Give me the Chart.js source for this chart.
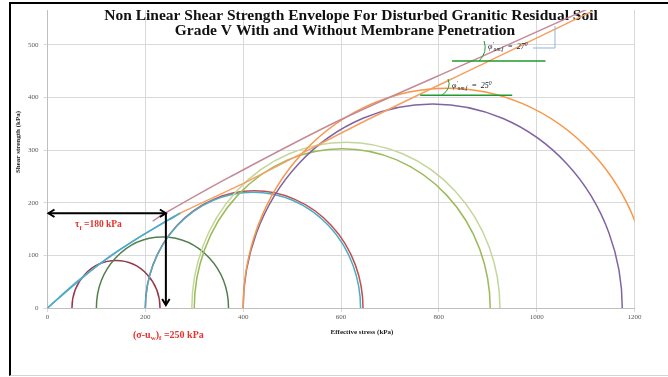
<!DOCTYPE html>
<html>
<head>
<meta charset="utf-8">
<script src="https://cdn.jsdelivr.net/npm/chart.js@4.4.0/dist/chart.umd.min.js"></script>
<style>
  html, body { margin: 0; padding: 0; background: #fff; }
  #wrap { position: relative; width: 668px; height: 377px; overflow: hidden; }
  #frame {
    position: absolute; left: 9px; top: 2px; width: 680px; height: 371px;
    border-left: 2px solid #000; border-top: 2px solid #000; border-bottom: 1px solid #d4d4d4;
    pointer-events: none;
  }
  canvas { position: absolute; left: 0; top: 0; }
</style>
</head>
<body>
<div id="wrap">
  <canvas id="chart" width="668" height="377"></canvas>
  <div id="frame"></div>
</div>
<script>
// Mohr circles: minor and major effective principal stress (kPa)
const sigma3 = [50, 100, 200, 200, 300, 295, 400, 400];
const sigma1 = [230, 370, 645, 640, 905, 925, 1175, 1235];

// Failure envelopes (effective stress, shear strength)
const envCyanX = [0, 66, 121, 189, 271];
const envCyanY = [0, 53, 94, 135, 180];
const envBlueX = [0, 60, 118, 185, 262];
const envBlueY = [0, 50, 91, 133, 176];
const envMauveX = [215, 240, 373, 598, 884, 1109];
const envMauveY = [165, 180, 249, 357, 476, 570];
const envOrangeX = [250, 271, 414, 653, 900, 1114];
const envOrangeY = [168, 180, 243, 357, 468, 564];

// Failure point marked with arrows
const tauF = 180;
const sigmaF = 242;

const xTicks = [0, 200, 400, 600, 800, 1000, 1200];
const yTicks = [0, 100, 200, 300, 400, 500];

const circleColors = ["#953a4c", "#527f4e", "#c0504d", "#4bacc6", "#9bbb59", "#c4d79b", "#8064a2", "#f79646"];

function pts(xs, ys) {
  return xs.map((x, i) => ({ x: x, y: ys[i] }));
}

function envelope(xs, ys, color) {
  return {
    data: pts(xs, ys),
    borderColor: color,
    borderWidth: 1.5,
    pointRadius: 0,
    showLine: true,
    tension: 0.3,
    fill: false,
  };
}

const mohrCircles = {
  id: "mohrCircles",
  beforeDatasetsDraw(chart) {
    const { ctx, chartArea, scales: { x, y } } = chart;
    ctx.save();
    ctx.beginPath();
    ctx.rect(chartArea.left, chartArea.top, chartArea.right - chartArea.left, chartArea.bottom - chartArea.top);
    ctx.clip();
    ctx.lineWidth = 1.5;
    sigma3.forEach((s3, i) => {
      const c = (s3 + sigma1[i]) / 2;
      const r = (sigma1[i] - s3) / 2;
      const cx = x.getPixelForValue(c);
      const cy = y.getPixelForValue(0);
      const rx = x.getPixelForValue(c + r) - cx;
      const ry = cy - y.getPixelForValue(r);
      ctx.strokeStyle = circleColors[i];
      ctx.beginPath();
      ctx.ellipse(cx, cy, rx, ry, 0, Math.PI, 2 * Math.PI);
      ctx.stroke();
    });
    ctx.restore();
  },
};

function arrowHead(ctx, x, y, dir) {
  const s = 6;
  ctx.beginPath();
  if (dir === "left") {
    ctx.moveTo(x + s, y - s / 1.6); ctx.lineTo(x, y); ctx.lineTo(x + s, y + s / 1.6);
  } else if (dir === "right") {
    ctx.moveTo(x - s, y - s / 1.6); ctx.lineTo(x, y); ctx.lineTo(x - s, y + s / 1.6);
  } else {
    ctx.moveTo(x - s / 1.6, y - s); ctx.lineTo(x, y); ctx.lineTo(x + s / 1.6, y - s);
  }
  ctx.stroke();
}

// draw a run of text parts, some of them sub- or superscripts
function drawRuns(ctx, runs, x, y, size, weight, style) {
  let cx = x;
  runs.forEach(r => {
    const fs = r.sub || r.sup ? size * 0.7 : size;
    ctx.font = (style || "") + " " + weight + " " + fs + "px 'Liberation Serif'";
    const dy = r.sub ? size * 0.3 : r.sup ? -size * 0.35 : 0;
    ctx.fillText(r.t, cx, y + dy);
    cx += ctx.measureText(r.t).width;
  });
}

const annotations = {
  id: "annotations",
  beforeDatasetsDraw(chart) {
    const { ctx } = chart;
    ctx.save();
    ctx.fillStyle = "#111";
    ctx.textAlign = "center";
    ctx.textBaseline = "middle";
    ctx.font = "bold 15.5px 'Liberation Serif'";
    ctx.fillText("Non Linear Shear Strength Envelope For Disturbed Granitic Residual Soil", 351, 16);
    ctx.fillText("Grade V With and Without Membrane Penetration", 345, 31);
    ctx.restore();
  },
  afterDraw(chart) {
    const { ctx, scales: { x, y } } = chart;
    ctx.save();

    // axis titles
    ctx.fillStyle = "#222";
    ctx.textAlign = "center";
    ctx.textBaseline = "middle";
    ctx.font = "bold 7px 'Liberation Serif'";
    ctx.fillText("Effective stress (kPa)", 362, 332);
    ctx.save();
    ctx.translate(18, 142);
    ctx.rotate(-Math.PI / 2);
    ctx.fillText("Shear strength (kPa)", 0, 0);
    ctx.restore();

    // failure arrows
    const px = x.getPixelForValue(sigmaF);
    const py = y.getPixelForValue(tauF);
    const p0 = y.getPixelForValue(0);
    const x0 = x.getPixelForValue(0);
    ctx.strokeStyle = "#000";
    ctx.lineWidth = 2;
    ctx.beginPath();
    ctx.moveTo(x0 + 1, py); ctx.lineTo(px, py);
    ctx.moveTo(px, py); ctx.lineTo(px, p0 - 3);
    ctx.stroke();
    arrowHead(ctx, x0 + 1, py, "left");
    arrowHead(ctx, px, py, "right");
    arrowHead(ctx, px, p0 - 3, "down");

    // red labels
    ctx.fillStyle = "#e5322d";
    ctx.textAlign = "left";
    ctx.textBaseline = "middle";
    drawRuns(ctx, [{ t: "τ" }, { t: "f", sub: true }, { t: " =180 kPa" }], 75, 225, 9.5, "bold");
    drawRuns(ctx, [{ t: "(σ-u" }, { t: "w", sub: true }, { t: ")" }, { t: "f", sub: true }, { t: " =250 kPa" }], 133, 335, 10, "bold");

    // friction angle markers
    const g1 = y.getPixelForValue(469);
    const g2 = y.getPixelForValue(404);
    ctx.strokeStyle = "#1f9a2e";
    ctx.lineWidth = 1.5;
    ctx.beginPath();
    ctx.moveTo(x.getPixelForValue(827), g1); ctx.lineTo(x.getPixelForValue(1018), g1);
    ctx.moveTo(x.getPixelForValue(762), g2); ctx.lineTo(x.getPixelForValue(950), g2);
    ctx.stroke();
    ctx.lineWidth = 1;
    ctx.beginPath();
    ctx.moveTo(479, g1); ctx.quadraticCurveTo(488, 52, 484, 41);
    ctx.moveTo(442, g2); ctx.quadraticCurveTo(452, 88, 448, 79);
    ctx.stroke();

    // leftover callout bracket
    ctx.strokeStyle = "#8fb4d8";
    ctx.lineWidth = 1;
    ctx.beginPath();
    ctx.moveTo(533, 48); ctx.lineTo(555, 48); ctx.lineTo(555, 26);
    ctx.stroke();

    ctx.fillStyle = "#222";
    drawRuns(ctx, [{ t: "φ" }, { t: "'", sup: true }, { t: "um", sub: true }, { t: ",f", sub: true }, { t: "  =  27" }, { t: "0", sup: true }], 488, 47, 8, "normal", "italic");
    drawRuns(ctx, [{ t: "φ" }, { t: "'", sup: true }, { t: "um", sub: true }, { t: ",f", sub: true }, { t: "  =  25" }, { t: "0", sup: true }], 452, 86, 8, "normal", "italic");

    ctx.restore();
  },
};

const tickFont = { family: "'Liberation Serif'", size: 7 };

new Chart(document.getElementById("chart").getContext("2d"), {
  type: "scatter",
  data: {
    datasets: [
      envelope(envCyanX, envCyanY, "#4bacc6"),
      envelope(envBlueX, envBlueY, "#7aa7d6"),
      envelope(envOrangeX, envOrangeY, "#f5a060"),
      envelope(envMauveX, envMauveY, "#c48a96"),
    ],
  },
  options: {
    responsive: false,
    animation: false,
    devicePixelRatio: 1,
    layout: { padding: { top: 10, right: 33.5, left: 0, bottom: 0 } },
    scales: {
      x: {
        type: "linear",
        min: 0,
        max: 1200,
        afterBuildTicks: s => { s.ticks = xTicks.map(v => ({ value: v })); },
        afterFit: s => { s.height = 69; },
        ticks: { color: "#595959", font: tickFont, padding: 1, callback: v => String(v) },
        grid: { color: "#d9d9d9", tickLength: 4 },
        border: { color: "#bfbfbf" },
      },
      y: {
        type: "linear",
        min: 0,
        max: 566,
        afterBuildTicks: s => { s.ticks = yTicks.map(v => ({ value: v })); },
        afterFit: s => { s.width = 47.5; },
        ticks: { color: "#595959", font: tickFont, padding: 5, callback: v => String(v) },
        grid: { color: "#d9d9d9", tickLength: 4 },
        border: { color: "#bfbfbf" },
      },
    },
    plugins: {
      legend: { display: false },
      tooltip: { enabled: false },
    },
  },
  plugins: [mohrCircles, annotations],
});
</script>
</body>
</html>
